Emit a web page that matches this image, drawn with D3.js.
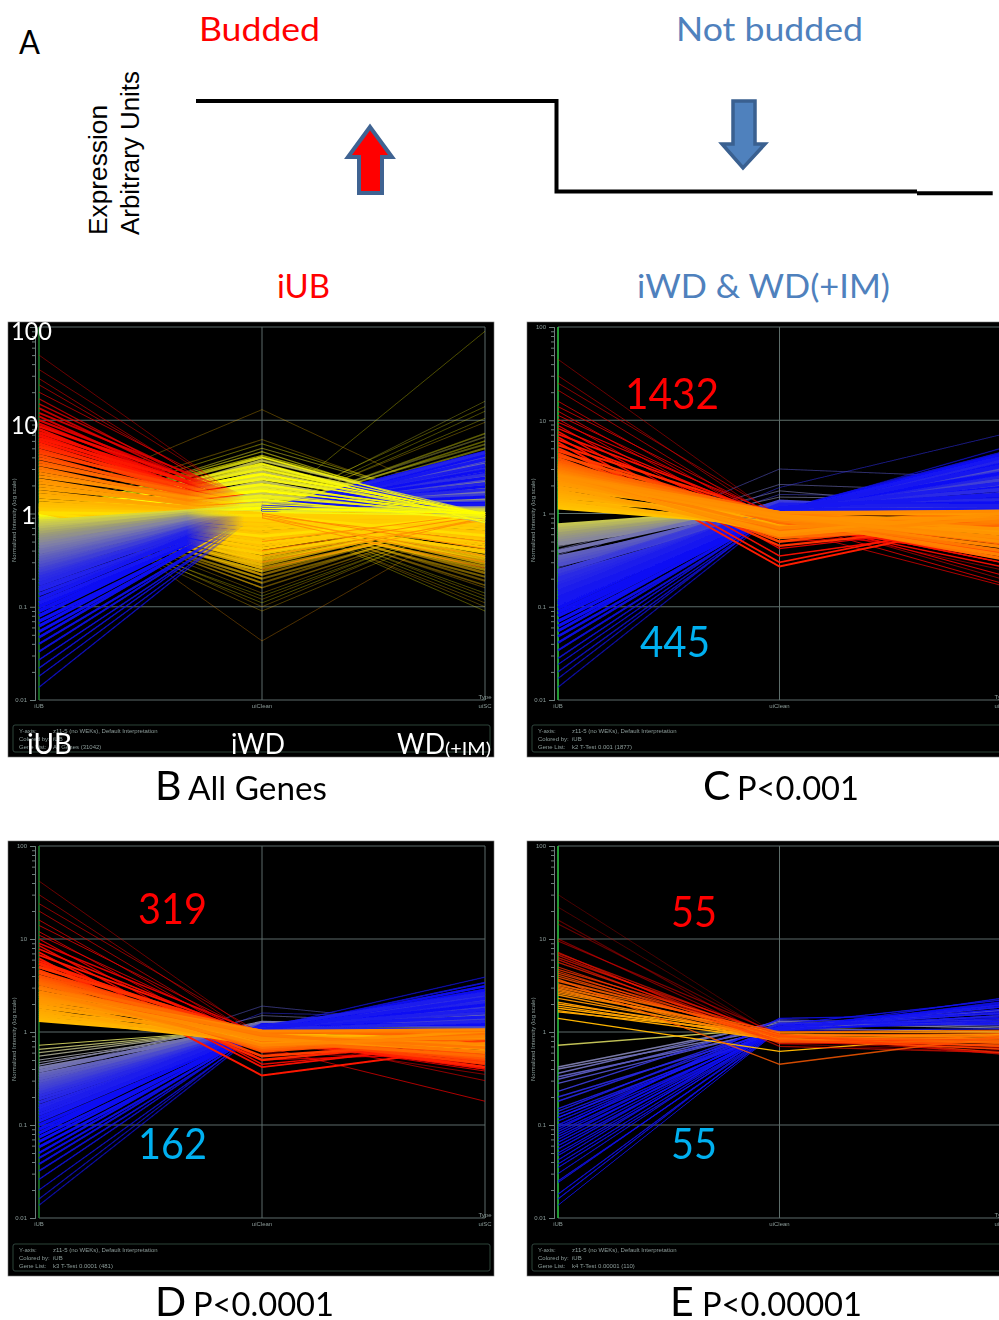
<!doctype html>
<html lang="en">
<head>
<meta charset="utf-8">
<title>Budded vs not budded expression</title>
<style>
  body { margin: 0; background: #fff; }
  svg { display: block; }
  text { font-family: Lato, sans-serif; }
  .tiny text, text.tiny { font-family: "Liberation Sans", sans-serif; font-size: 6px; fill: #8d9c9a; }
</style>
</head>
<body>
<div id="viz"></div>
<script src="https://cdnjs.cloudflare.com/ajax/libs/d3/7.8.5/d3.min.js"></script>
<script>
// every row is one gene: [iUB, iWD, WD(+IM)]
var samples = ["iUB", "uiClean", "uiSC"];
var majorTicks = [100, 10, 1, 0.1, 0.01];
var minorTicks = [90,80,70,60,50,40,30,20,9,8,7,6,5,4,3,2,.9,.8,.7,.6,.5,.4,.3,.2,.09,.08,.07,.06,.05,.04,.03,.02];

var stepHigh = [[0, 1], [1, 1], [1, 0], [2, 0]];
var stepTail = [[2, -0.02], [2.21, -0.02]];

// panel B, all genes
var bFaint = [[1.3,13,1],[1.1,6.2,.9],[1,5.6,1],[.9,5,1.05],[.95,4.6,.8],[1,4.2,.95],[.9,1,16],[1,1.1,14],[.95,1,12.5],[1,1,10.5],[1.05,1.05,9.5],[1,1,90],
  [1.1,.09,.9],[1.2,.1,1],[1,.11,.95],[1.1,.12,1],[.95,.13,.95],[1.2,.14,1],[2.2,.043,1],[1,1,.09],[1.1,1,.1],[1.2,.95,.11],[1,1,.12],[1.1,1.05,.13],[.95,1,.14],[1.2,1,.16]];
var bUp = [[50,1,.4],[35,1.1,.5],[28,.9,.3],[24,1,.6],[20,1.2,.5],[17,.9,.4],[15,1.1,.35],[13.5,1,.6],[12,1.3,.7],[11,.95,.45],[10,1.2,.5],[9.2,1,.7],[8.6,1.3,.6],[8,.9,.8],
  [7.4,1.2,.55],[6.9,1,.75],[6.4,1.3,.9],[6,1.1,.6],[5.6,.95,.8],[5.2,1.2,.7],[4.8,1.05,.85],[4.5,1.25,.65],[4.2,.95,.9],[3.9,1.15,.75],[3.6,1.05,.8],[3.35,1.2,.9],[3.1,.95,.7],
  [2.9,1.1,.85],[2.7,1,.9],[2.5,1.15,.8],[2.3,.95,.95],[2.15,1.05,.85],[2,1,.9],[1.85,1.1,.95],[1.72,.95,.85],[1.6,1,.9],[1.5,1.05,.95],[1.4,.98,.9],[1.3,1,.95],[1.22,1.02,.9]];
var bDown = [[.82,1.2,1.1],[.78,1.15,1.3],[.74,1.2,1.15],[.7,1.1,1.6],[.66,1.2,1.25],[.62,1.1,1.9],[.58,1.18,1.4],[.55,1.1,2.2],[.52,1.2,1.5],[.49,1.05,2.5],[.46,1.2,1.2],
  [.43,1.1,2.8],[.4,1.15,1.7],[.38,1.05,3.1],[.35,1.2,2],[.33,1.1,3.4],[.31,1.18,1.35],[.29,1.05,3.7],[.27,1.15,2.3],[.25,1.1,4],[.235,1.2,1.6],[.22,1.05,4.3],[.205,1.15,2.6],
  [.19,1.1,3],[.175,1.2,1.8],[.16,1.05,4.5],[.15,1.15,2.1],[.135,1.1,3.3],[.12,1.2,1.25],[.11,1.05,3.8],[.1,1.15,2.4],[.09,1.1,2.9],[.08,1.18,1.5],[.07,1.05,4.2],[.062,1.15,1.95],
  [.054,1.1,3.2],[.047,1.2,1.3],[.04,1.05,2.7],[.033,1.1,3.6],[.027,1.05,2],[.022,1.1,4.6],[.018,1.05,1.7],[.0137,1.1,2.5]];
var bFall = [[.95,4,.9],[.75,3.7,1],[.98,3.4,.8],[.88,3.2,1],[.95,3,.95],[.72,2.8,.85],[1,2.65,1],[.85,2.5,.9],[.95,2.35,1],[.7,2.2,.8],[.97,2.05,.95],[.88,1.95,1],[.92,1.85,.9],
  [1,1.75,1],[.74,1.65,.9],[.94,1.55,.95],[.9,1.48,1],[.98,1.4,.85],[.72,1.33,.95],[.95,1.26,1],[.9,1.2,.9],[1,1.14,1],[.9,1.08,1.02],[.96,1.03,.95]];
var bRise = [[.95,1,7.2],[.75,1.05,6.6],[.98,1,6],[.88,1.1,5.5],[.95,1,5],[.72,1,4.5],[1,1.05,4.1],[.86,1,3.7],[.94,1.05,3.4],[.9,1,3],[.97,1.1,2.7],[.88,1,2.4],[.92,1.05,2.15],[1,1,1.95],
  [.86,1.1,1.75],[.94,1,1.6],[.9,1.05,1.45],[.98,1,1.32],[.87,1,1.22],[.95,1.05,1.12]];
var bMidLow = [[1.2,.16,.95],[1.15,.18,1],[1.1,.2,.9],[1.25,.22,1],[1.05,.24,.95],[1.2,.26,.85],[1.12,.28,1],[1.3,.3,.95],[1.08,.32,.9],[1.18,.34,1],[1.03,.37,.95],[1.25,.39,.85],
  [1.1,.42,1],[1.2,.45,.95],[1.06,.48,.9],[1.15,.51,1],[1.28,.54,.9],[1.02,.57,.95],[1.12,.6,1],[1.22,.64,.9],[1.05,.68,.95],[1.16,.72,1],[1.08,.76,.9],[1.2,.8,.95],[1.03,.84,1],[1.12,.88,.95],[1.06,.93,1],[1.18,.97,1],
  [1.2,.95,.17],[1.15,1,.19],[1.1,.9,.21],[1.25,1,.23],[1.05,.95,.25],[1.2,.85,.27],[1.12,1,.29],[1.3,.95,.31],[1.08,.9,.33],[1.18,1,.35],[1.03,.95,.38],[1.25,.85,.4],[1.1,1,.43],[1.2,.95,.46],
  [1.06,.9,.49],[1.15,1,.52],[1.28,.9,.55],[1.02,.95,.58],[1.12,1,.61],[1.22,.9,.64],[1.05,.95,.68],[1.16,1,.72],[1.08,.9,.76],[1.2,.95,.8],[1.03,1,.84],[1.12,.95,.88],[1.06,1,.93],[1.18,1,.97]];
var bMidOrange = [[2.6,.5,1],[3,.4,.95],[2.8,.3,.9],[2.4,.35,.85],[3.2,.25,.9],[2.6,.95,.5],[3,1,.42],[2.4,.9,.35],[2.8,.95,.3],[3.2,.9,.26]];

// panel C, P<0.001
var cUp = [[45,.9,.3],[30,.8,.25],[25,.95,.2],[21,.75,.35],[16,.7,.17],[14,.9,.3],[12.5,.6,.4],[11.3,.85,.18],[10.3,.5,.6],[9.5,.95,.22],[8.8,.42,.8],[8.2,.85,.27],[7.6,.35,.75],[7.1,.9,.3],
  [6.6,.3,.9],[6.2,.8,.33],[5.8,.27,.85],[5.4,.95,.36],[5,.45,.8],[4.7,.85,.4],[4.4,.5,.9],[4.15,.9,.38],[3.9,.55,.85],[3.65,.8,.45],[3.45,.6,.95],[3.25,.95,.48],[3.05,.65,.9],[2.88,.85,.52],
  [2.72,.7,.95],[2.56,.9,.55],[2.42,.62,1],[2.3,.95,.6],[2.18,.72,.9],[2.06,.88,.65],[1.95,.6,.95],[1.85,.95,.7],[1.75,.7,1],[1.66,.85,.62],[1.58,.78,.95],[1.5,.92,.75],[1.43,.68,.9],[1.36,.98,.8],[1.3,.75,1.05],[1.25,.8,.85],[1.2,.78,.95],[1.15,.75,.9],
  [2.6,1.02,1.05],[3,.98,1.02],[2.2,1.03,.98],[1.9,1,1.06],[3.4,1.02,.96],[2.8,.95,.82],[2.4,.88,.9],[3.2,.8,.98],
  [3,.9,.4],[2.8,.85,.36],[2.5,.95,.5],[2.7,.9,.44],[2.3,.88,.56],[2.1,.92,.62],[2.4,.95,.68],[3.1,.9,.33],[2.9,.62,.8],[2.6,.58,.9],[3.3,.55,.75]];
var cDown = [[.75,1.12,1],[.72,1.1,1.1],[.68,1.15,1],[.64,1.08,1.3],[.6,1.12,1.05],[.56,1.05,1.6],[.53,1.15,1.1],[.5,1.1,1.9],[.47,1.12,1.05],[.39,1.3,1.2],[.34,1.05,2.6],
  [.32,1.25,1.3],[.3,1.1,2],[.28,1.05,3],[.245,1.1,2.3],[.23,1.3,1.15],[.215,1.05,2.8],[.2,1.15,1.8],[.19,1.05,3.4],[.175,1.2,1.4],[.165,1.1,2.5],[.155,1.05,3.7],[.145,1.25,1.2],[.135,1.1,2.1],
  [.125,1.05,3.2],[.115,1.15,1.6],[.105,1.05,4],[.097,1.2,1.3],[.088,1.1,2.7],[.08,1.05,3.5],[.07,1.1,1.9],[.062,1.05,4.3],[.055,1.15,1.5],[.048,1.05,2.9],[.041,1.1,3.8],[.034,1.05,2.2],[.028,1.1,4.5],[.024,1.05,1.7],
  [.02,1.05,3.3],[.017,1.1,2.6],[.0137,1.05,5],[.24,1.35,1.05],[.16,1.2,1.03],[.11,1.08,1.1]];
var cHighMid = [[.3,3,2.4],[.2,1.9,7],[.36,2.05,1.7],[.26,1.6,1.5],[.41,1.75,1.1],[.44,1.5,1.4]];

// panel D, P<0.0001
var dUp = [[42,.85,.4],[30,.8,.35],[24,.95,.3],[20,.75,.45],[16,.7,.18],[14,.9,.4],[12,.6,.5],[11,.85,.38],[10,.5,.6],[9,.95,.42],[8.5,.45,.75],[7.8,.85,.4],[7.2,.42,.8],[6.7,.9,.45],[6.2,.34,.7],[5.8,.8,.42],
  [5.4,.5,.85],[5,.95,.48],[4.6,.55,.8],[4.3,.85,.5],[4,.62,.9],[3.75,.9,.52],[3.5,.65,.85],[3.3,.8,.55],[3.1,.68,.95],[2.9,.95,.6],[2.72,.72,.9],[2.55,.85,.62],[2.4,.75,1],[2.28,.9,.66],[2.15,.7,.95],[2.05,.95,.7],
  [1.95,.78,.9],[1.85,.88,.72],[1.75,.72,1],[1.65,.95,.75],[1.58,.8,.95],[1.5,.9,.78],[1.44,.76,1],[1.38,.95,.85],[1.33,.85,1.05],[2.7,1.02,1.06],[3,.98,1.03],[2.2,1.03,.98],[3.4,1.02,.9],[2.5,.82,.86],
  [5,.9,.5],[4.5,.85,.46],[4,.95,.56],[3.6,.9,.6],[5.5,.88,.42],[3,.92,.68],[2.6,.88,.74]];
var dDown = [[.72,1.08,1],[.65,1.1,1.1],[.6,1.12,1.2],[.55,1.15,1.3],[.5,1.1,1.05],[.47,1.1,1.6],[.44,1.3,1.15],[.41,1.1,1.8],[.38,1.25,1.2],[.35,1.05,1.5],[.33,1.2,1.3],[.31,1.1,2],[.29,1.05,1.7],[.27,1.2,1.15],
  [.25,1.1,2.2],[.235,1.05,1.4],[.22,1.15,1.9],[.205,1.1,1.25],[.19,1.05,2.4],[.175,1.15,1.6],[.16,1.1,2.1],[.15,1.05,1.3],[.14,1.15,2.6],[.13,1.1,1.75],[.12,1.05,2.3],[.11,1.15,1.45],[.1,1.05,2.8],[.09,1.1,1.95],
  [.082,1.2,1.2],[.074,1.05,2.5],[.066,1.1,1.65],[.058,1.05,3.1],[.05,1.15,2],[.044,1.05,1.35],[.038,1.1,2.7],[.032,1.05,3.4],[.026,1.1,1.8],[.02,1.05,2.2],[.016,1.1,3.9],[.0137,1.05,2.9],[.15,1.12,1.03],[.26,1.03,1.06]];
var dHighMid = [[.3,1.9,1.1],[.38,1.5,1.2],[.2,1.6,1.4]];

// panel E, P<0.00001
var eUp = [[30,.9,.7],[22,.85,.8],[16,.75,.6],[14.5,.9,.65],[10,.8,.62],[9.5,.95,.7],[7.2,.7,.6],[7,.88,.75],[6.7,.8,.68],[6.3,.92,.58],[6,.75,.78],[5.6,.85,.65],[5,.8,.72],[4.7,.95,.6],[4.5,.78,.85],[4.3,.9,.7],
  [4.1,.82,.66],[3.9,.88,.8],[3.7,.45,.9],[3.5,.92,.75],[3.3,.8,.9],[3.1,.85,.7],[3,.9,.82],[2.9,.78,.78],[2.7,.95,.88],[2.5,.82,.72],[2.3,.88,.85],[2.1,.8,.8],[2,.92,.9],[1.9,.85,.78],[1.8,.9,.95],[1.7,.82,.85],[1.65,.95,.88],[1.4,.62,.95],
  [3.2,1,1.04],[2.6,.98,1],[2.8,.86,.92],[3.6,.92,.96]];
var eDown = [[.72,1.1,1],[.42,1.25,1.1],[.4,1.1,1.3],[.36,1.3,1.15],[.33,1.05,1.5],[.31,1.2,1.25],[.28,1.1,1.7],[.23,1.35,1.2],[.2,1.05,1.85],[.18,1.2,1.35],[.15,1.1,1.6],[.14,1.25,1.2],[.13,1.05,1.95],[.12,1.15,1.45],[.11,1.1,1.75],
  [.1,1.2,1.3],[.095,1.05,2.1],[.09,1.4,1.55],[.085,1.1,1.25],[.08,1.15,1.85],[.075,1.05,1.4],[.07,1.2,2.2],[.065,1.1,1.65],[.06,1.05,1.3],[.055,1.15,1.95],[.05,1.1,1.5],[.047,1.05,2.05],[.042,1.2,1.2],[.038,1.1,1.75],
  [.035,1.05,2.3],[.03,1.15,1.4],[.025,1.05,1.9],[.024,1.1,1.6],[.018,1.05,1.35],[.016,1.1,2],[.0137,1.05,1.7],[.12,1.04,1.08]];

var colorStops = [.1, .2, .3, .45, .6, .75, .9, 1, 1.03, 1.5, 2.5, 4, 6, 10];
var colorRange = ["#1010f4", "#2c2ce4", "#5656c4", "#8282a4", "#a0a072", "#c8c850", "#e6e628", "#ffff00", "#ffcf00", "#ffb000", "#ff9000", "#ff5000", "#ff1800", "#e80000"];

var w = 999, h = 1320;
var svg = d3.select("#viz").append("svg").attr("width", w).attr("height", h);
var defs = svg.append("defs");
defs.append("filter").attr("id", "soft")
  .attr("x", "-2%").attr("y", "-2%").attr("width", "104%").attr("height", "104%")
  .append("feGaussianBlur").attr("stdDeviation", 0.6);
// in panel B the iUB=1 genes fade in over the tips of the red and blue fans
var fadeIn = defs.append("linearGradient").attr("id", "fadeIn").attr("gradientUnits", "userSpaceOnUse")
  .attr("x1", 178).attr("x2", 236).attr("y1", 0).attr("y2", 0);
fadeIn.append("stop").attr("offset", 0).attr("stop-color", "#000");
fadeIn.append("stop").attr("offset", 1).attr("stop-color", "#fff");
defs.append("mask").attr("id", "centre").attr("maskUnits", "userSpaceOnUse")
  .attr("x", 0).attr("y", 0).attr("width", 500).attr("height", 435)
  .append("rect").attr("width", 500).attr("height", 435).attr("fill", "url(#fadeIn)");

var color = d3.scaleLog().domain(colorStops).range(colorRange).clamp(true);

function label(s, x, y, size, fill, len, anchor) {
  var t = svg.append("text").attr("x", x).attr("y", y)
    .style("font-size", size + "px").style("fill", fill).text(s);
  if (len) t.attr("textLength", len).attr("lengthAdjust", "spacingAndGlyphs");
  if (anchor) t.attr("text-anchor", anchor);
  return t;
}

// A: schematic
var stepX = d3.scaleLinear().domain([0, 2]).range([196, 917]);
var stepY = d3.scaleLinear().domain([0, 1]).range([191.5, 101]);
var stepLine = d3.line().x(function(d) { return stepX(d[0]); }).y(function(d) { return stepY(d[1]); });
[stepHigh, stepTail].forEach(function(pts) {
  svg.append("path").attr("d", stepLine(pts)).attr("fill", "none").attr("stroke", "#000").attr("stroke-width", 4);
});
svg.append("path").attr("d", "M370,127 L392,157 L382,157 L382,193 L359,193 L359,157 L348,157 Z")
  .attr("fill", "#f00").attr("stroke", "#3f6392").attr("stroke-width", 4);
svg.append("path").attr("d", "M733,101 L755,101 L755,144 L765,144 L743,168 L722,144 L733,144 Z")
  .attr("fill", "#4f81bd").attr("stroke", "#3a6090").attr("stroke-width", 3.5);

label("A", 19, 54, 33, "#000", 21);
label("Budded", 199, 41, 33, "#f00", 121);
label("Not budded", 676, 41, 33, "#4f81bd", 187);
label("iUB", 277, 298, 33, "#f00", 53);
label("iWD & WD(+IM)", 637, 298, 33, "#4f81bd", 253);
["Expression", "Arbitrary Units"].forEach(function(s, i) {
  svg.append("text")
    .attr("transform", "translate(" + [107, 139][i] + ",235) rotate(-90)")
    .attr("textLength", [130, 164][i]).attr("lengthAdjust", "spacingAndGlyphs")
    .style("font-family", "'Liberation Sans', sans-serif").style("font-size", "25px").style("fill", "#000")
    .text(s);
});

function drawPanel(cfg) {
  var g = svg.append("g").attr("transform", "translate(" + cfg.x + "," + cfg.y + ")");
  var inner = g.append("g").attr("filter", "url(#soft)");
  inner.append("rect").attr("width", cfg.w).attr("height", 435).attr("fill", "#000").attr("stroke", "#777").attr("stroke-width", 0.6);

  var x = d3.scalePoint().domain(samples).range([31, 31 + 2 * cfg.span]);
  var y = d3.scaleLog().domain([0.01, 100]).range([cfg.bottom, 5]);

  // grid and axes
  var grid = inner.append("g");
  grid.selectAll("line.h").data(majorTicks).enter().append("line")
    .attr("class", "h").attr("x1", x("iUB")).attr("x2", x("uiSC"))
    .attr("y1", y).attr("y2", y).attr("stroke", "#5d6d6b").attr("stroke-width", 1);
  grid.selectAll("line.v").data(samples).enter().append("line")
    .attr("class", "v").attr("x1", x).attr("x2", x).attr("y1", 5).attr("y2", cfg.bottom)
    .attr("stroke", function(d) { return d == "iUB" ? cfg.axisColor : "#5d6d6b"; })
    .attr("stroke-width", function(d) { return d == "iUB" ? 1.6 : 1; });

  function dev(r) { return d3.max(r, function(v) { return Math.abs(Math.log10(v)); }); }

  // genes, coloured by their iUB value; the group's pivot colour ends up on top
  cfg.groups.forEach(function(grp) {
    var from = grp.from || 0, to = grp.to || 3, pivot = Math.log10(grp.pivot || 1);
    var fade = d3.scaleLinear().domain(grp.fade).range([1, grp.minOpacity]).clamp(true);
    var thin = d3.scaleLinear().domain(grp.thin).range([grp.width, grp.minWidth || 1]).clamp(true);
    var line = d3.line().x(function(d) { return x(samples[d.i]); }).y(function(d) { return y(d.v); });
    var rows = grp.rows.slice().sort(function(a, b) {
      return d3.descending(Math.abs(Math.log10(a[0]) - pivot), Math.abs(Math.log10(b[0]) - pivot));
    });
    var layer = inner.append("g");
    if (grp.mask) layer.attr("mask", "url(#" + grp.mask + ")");
    layer.selectAll("path").data(rows).enter().append("path")
      .attr("d", function(r) {
        return line(r.map(function(v, i) { return {i: i, v: v}; }).slice(from, to));
      })
      .attr("fill", "none")
      .attr("stroke", function(r) { return color(r[0]); })
      .attr("stroke-width", function(r) { return thin(dev(r)); })
      .attr("stroke-opacity", function(r) { return fade(dev(r)); });
  });

  var shown = cfg.hideTicks ? majorTicks.filter(function(d) { return d < 1; }) : majorTicks;
  var axis = d3.axisLeft(y).tickValues(majorTicks).tickSize(5)
    .tickFormat(function(d) { return shown.indexOf(d) < 0 ? "" : d; });
  var axisG = inner.append("g").attr("class", "tiny").attr("transform", "translate(" + (x("iUB") - 4) + ",0)").call(axis);
  var minorG = inner.append("g").attr("transform", "translate(" + (x("iUB") - 4) + ",0)")
    .call(d3.axisLeft(y).tickValues(minorTicks).tickSize(3).tickFormat(""));
  [axisG, minorG].forEach(function(a) {
    a.selectAll("line,path").attr("stroke", "#6d7d7b");
  });

  inner.append("text").attr("class", "tiny").attr("transform", "translate(8,240) rotate(-90)").text("Normalized Intensity (log scale)");
  inner.selectAll("text.xname").data(samples).enter().append("text")
    .attr("class", "tiny xname").attr("x", x).attr("y", cfg.bottom + 8).attr("text-anchor", "middle").text(function(d) { return d; });
  inner.append("text").attr("class", "tiny").attr("x", x("uiSC")).attr("y", cfg.bottom - 1).attr("text-anchor", "middle").text("Type");

  // legend box
  inner.append("rect").attr("x", 5).attr("y", 403).attr("width", cfg.w - 9).attr("height", 27).attr("rx", 2)
    .attr("fill", "none").attr("stroke", "#33443f").attr("stroke-width", 1);
  ["Y-axis:", "Colored by:", "Gene List:"].forEach(function(s, i) {
    inner.append("text").attr("class", "tiny").attr("x", 11).attr("y", 411 + i * 8).text(s);
    inner.append("text").attr("class", "tiny").attr("x", 45).attr("y", 411 + i * 8)
      .text(["z11-5 (no WEKs), Default Interpretation", "iUB", cfg.list][i]);
  });
}

var left = 8, right = 527;
var yellowStyle = {width: 2.8, thin: [.55, .8], fade: [.4, .72], minOpacity: .38, minWidth: 1.6};
function yellow(rows, extra) { return Object.assign({rows: rows}, yellowStyle, extra || {}); }

drawPanel({x: left, y: 322, w: 486, span: 223, bottom: 378, axisColor: "#1d7c2e", hideTicks: true, list: "All Genes (31042)", groups: [
  {rows: bFaint, width: 1.4, thin: [.4, .8], fade: [.4, .8], minOpacity: .3},
  yellow(bRise), yellow(bFall), yellow(bMidLow),
  {rows: bUp, to: 2, pivot: 2.5, width: 3, thin: [.85, 1.3], fade: [.9, 1.6], minOpacity: .45},
  {rows: bDown, to: 2, pivot: .12, width: 3.8, thin: [1.05, 1.6], minWidth: 1.4, fade: [1.2, 1.9], minOpacity: .7},
  yellow(bRise, {mask: "centre", to: 2}), yellow(bFall, {mask: "centre", to: 2}), yellow(bMidLow, {mask: "centre", to: 2}),
  {rows: bMidOrange, from: 1, width: .9, thin: [.6, 1], fade: [.4, .6], minOpacity: .65, minWidth: .9},
  {rows: bDown, from: 1, pivot: .12, width: 3, thin: [1.6, 2], fade: [1.6, 2], minOpacity: .9},
  {rows: bFall, from: 1, width: 1.4, thin: [.5, .8], fade: [.55, .8], minOpacity: .7}
]});
drawPanel({x: right, y: 322, w: 480, span: 221.5, bottom: 378, axisColor: "#2bbf3f", list: "k2 T-Test 0.001 (1877)", groups: [
  {rows: cHighMid, width: 1, thin: [1, 2], fade: [0, .5], minOpacity: .55},
  {rows: cDown, pivot: .12, width: 3.8, thin: [1.05, 1.6], minWidth: 1.4, fade: [1.2, 1.9], minOpacity: .6},
  {rows: cUp, pivot: 2.5, width: 3.2, thin: [.5, 1], fade: [.85, 1.6], minOpacity: .45}
]});
drawPanel({x: left, y: 841, w: 486, span: 223, bottom: 377, axisColor: "#1d7c2e", list: "k3 T-Test 0.0001 (481)", groups: [
  {rows: dHighMid, width: 1, thin: [1, 2], fade: [0, .5], minOpacity: .55},
  {rows: dDown.filter(function(r) { return r[0] > .42; }), width: 1.1, thin: [1, 2], fade: [1, 2], minOpacity: .6},
  {rows: dDown.filter(function(r) { return r[0] <= .42; }), pivot: .12, width: 3.2, thin: [1.05, 1.6], minWidth: 1.3, fade: [1.2, 1.9], minOpacity: .6},
  {rows: dUp, pivot: 2.8, width: 2.8, thin: [.6, 1.05], fade: [.85, 1.6], minOpacity: .45}
]});
drawPanel({x: right, y: 841, w: 480, span: 221.5, bottom: 377, axisColor: "#2bbf3f", list: "k4 T-Test 0.00001 (110)", groups: [
  {rows: eDown, pivot: .12, width: 1.4, thin: [1.2, 1.8], fade: [.3, 1], minOpacity: .85},
  {rows: eUp, pivot: 4, width: 1.3, thin: [.8, 1.4], fade: [.3, 1.3], minOpacity: .35, minWidth: .9}
]});

// big labels on the panels
label("100", 11, 340, 25, "#fff", 41);
label("10", 11, 434, 25, "#fff", 27);
label("1", 21, 524, 25, "#fff");
label("iUB", 27, 754, 29, "#fff", 45);
label("iWD", 231, 754, 29, "#fff", 54);
label("WD", 397, 754, 29, "#fff", 48);
label("(+IM)", 445, 755, 18, "#fff", 46);

label("1432", 625, 409, 42, "#f00", 94);
label("445", 640, 657, 42, "#00b0f0", 70);
label("319", 138, 924, 42, "#f00", 69);
label("162", 138, 1159, 42, "#00b0f0", 69);
label("55", 671, 927, 42, "#f00", 46);
label("55", 671, 1159, 42, "#00b0f0", 46);

// captions
label("B", 155, 800, 41, "#000");
label("All Genes", 188, 800, 33, "#000", 139);
label("C", 703, 800, 41, "#000");
label("P<0.001", 737, 800, 33, "#000", 122);
label("D", 155, 1316, 41, "#000");
label("P<0.0001", 193, 1316, 33, "#000", 141);
label("E", 670, 1316, 41, "#000");
label("P<0.00001", 702, 1316, 33, "#000", 160);
</script>
</body>
</html>
